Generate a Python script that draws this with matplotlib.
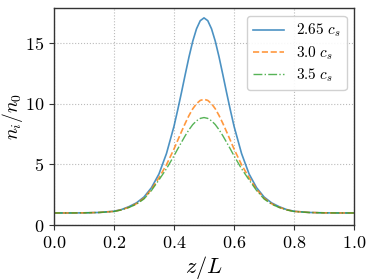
import matplotlib
matplotlib.use('Agg')
import matplotlib.pyplot as plt

plt.rcParams['mathtext.fontset'] = 'cm'
plt.rcParams['font.family'] = 'serif'
plt.rcParams['font.serif'] = ['cmr10', 'DejaVu Serif']
plt.rcParams['axes.formatter.use_mathtext'] = True

# === Data ===
z = [0.0, 0.05, 0.1, 0.15, 0.2, 0.225, 0.25, 0.275, 0.3, 0.325, 0.35, 0.375,
     0.4, 0.4125, 0.425, 0.4375, 0.45, 0.4625, 0.475, 0.4875, 0.5,
     0.5125, 0.525, 0.5375, 0.55, 0.5625, 0.575, 0.5875, 0.6, 0.625, 0.65,
     0.675, 0.7, 0.725, 0.75, 0.775, 0.8, 0.85, 0.9, 0.95, 1.0]

n_265 = [1.0, 1.0, 1.01, 1.04, 1.14, 1.28, 1.52, 1.83, 2.31, 3.08, 4.21, 5.89,
         8.13, 9.49, 10.92, 12.40, 13.84, 15.13, 16.15, 16.82, 17.05,
         16.82, 16.15, 15.13, 13.84, 12.40, 10.92, 9.49, 8.13, 5.89, 4.21,
         3.08, 2.31, 1.83, 1.52, 1.28, 1.14, 1.04, 1.01, 1.0, 1.0]

n_30 = [1.0, 1.0, 1.01, 1.04, 1.13, 1.26, 1.47, 1.76, 2.22, 2.95, 3.90, 4.97,
        6.26, 6.98, 7.69, 8.38, 9.02, 9.57, 9.99, 10.26, 10.35,
        10.26, 9.99, 9.57, 9.02, 8.38, 7.69, 6.98, 6.26, 4.97, 3.90,
        2.95, 2.22, 1.76, 1.47, 1.26, 1.13, 1.04, 1.01, 1.0, 1.0]

n_35 = [1.0, 1.0, 1.01, 1.04, 1.12, 1.25, 1.45, 1.72, 2.15, 2.85, 3.72, 4.64,
        5.70, 6.27, 6.82, 7.36, 7.85, 8.27, 8.58, 8.78, 8.85,
        8.78, 8.58, 8.27, 7.85, 7.36, 6.82, 6.27, 5.70, 4.64, 3.72,
        2.85, 2.15, 1.72, 1.45, 1.25, 1.12, 1.04, 1.01, 1.0, 1.0]

labels = [r'$2.65\ c_s$', r'$3.0\ c_s$', r'$3.5\ c_s$']
xticks = [0.0, 0.2, 0.4, 0.6, 0.8, 1.0]
yticks = [0, 5, 10, 15]

# === Plot ===
fig = plt.figure(figsize=(3.74, 2.8), dpi=100)
ax = fig.add_axes([0.144, 0.196, 0.803, 0.775])

ax.plot(z, n_265, color='#1f77b4', lw=1.2, alpha=0.8, label=labels[0])
ax.plot(z, n_30, color='#ff7f0e', lw=1.2, ls='--', alpha=0.8, label=labels[1])
ax.plot(z, n_35, color='#2ca02c', lw=1.0, ls='-.', alpha=0.8, label=labels[2])

ax.set_xlim(0, 1)
ax.set_ylim(bottom=0)
ax.set_xticks(xticks)
ax.set_xticklabels([f'${t:.1f}$' for t in xticks])
ax.set_yticks(yticks)
ax.set_yticklabels([f'${t}$' for t in yticks])
ax.tick_params(labelsize=13, length=3.5, color='#333333')

ax.set_xlabel(r'$z/L$', fontsize=16, labelpad=2)
ax.set_ylabel(r'$n_i/n_0$', fontsize=14, labelpad=0)

ax.grid(True, color='#bbbbbb', ls=':', lw=0.8)
for s in ax.spines.values():
    s.set_color('#333333')
    s.set_linewidth(1.0)

ax.legend(loc='upper right', fontsize=11, handlelength=2.0, borderpad=0.4,
          labelspacing=0.3, framealpha=0.9)

fig.savefig('out.png', dpi=100)
